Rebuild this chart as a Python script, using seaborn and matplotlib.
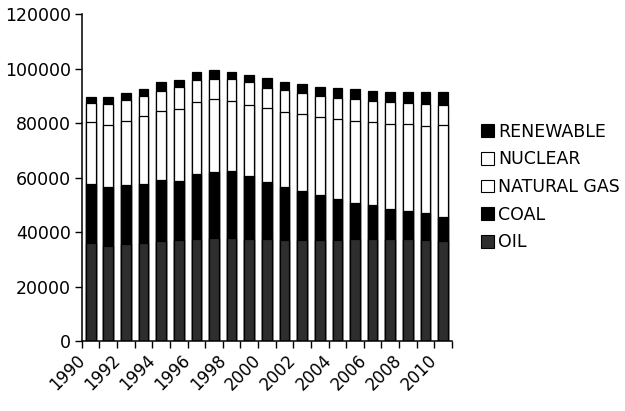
import numpy as np
import pandas as pd
import matplotlib
matplotlib.use("Agg")
import matplotlib.pyplot as plt
import matplotlib.transforms as mtransforms
import seaborn as sns
from matplotlib.patches import Patch

years = list(range(1990, 2011))
oil = [36000, 35000, 35500, 36000, 36700, 37000, 37500, 38000, 37800, 37400,
       37400, 37000, 37000, 37200, 37300, 37400, 37400, 37400, 37400, 37200, 36700]
coal = [21700, 21500, 21900, 21700, 22300, 21700, 23700, 24000, 24700, 23200,
        20900, 19700, 18000, 16600, 14900, 13500, 12600, 11300, 10500, 9800, 8900]
natural_gas = [22600, 22800, 23500, 25100, 25500, 26400, 26500, 26900, 25800, 26100,
               27200, 27500, 28300, 28600, 29200, 29900, 30300, 30900, 31700, 32000, 33700]
nuclear = [7000, 7700, 7600, 7400, 7500, 8100, 8100, 7400, 7900, 8400,
           7600, 8100, 7700, 7800, 8000, 8100, 7900, 8100, 7700, 8000, 7600]
renewable = [2500, 2600, 2800, 2400, 3000, 2800, 3000, 3100, 2800, 2700,
             3500, 3000, 3400, 3300, 3700, 3600, 3800, 3900, 4300, 4600, 4700]

series = [("OIL", oil), ("COAL", coal), ("NATURAL GAS", natural_gas),
          ("NUCLEAR", nuclear), ("RENEWABLE", renewable)]
face = {"OIL": "#2e2e2e", "COAL": "#000000", "NATURAL GAS": "#ffffff",
        "NUCLEAR": "#ffffff", "RENEWABLE": "#000000"}

sns.set_style("ticks", {"axes.edgecolor": "black", "text.color": "black",
                        "xtick.color": "black", "ytick.color": "black"})
plt.rcParams["font.family"] = ["DejaVu Sans"]

df = pd.DataFrame({"year": [str(y) for y in years]})
running = np.zeros(len(years))
for name, vals in series:
    running = running + np.array(vals)
    df[name] = running.copy()

fig = plt.figure(figsize=(6.25, 4.11), dpi=100)
ax = fig.add_axes([0.131, 0.170, 0.592, 0.795])

# Stacked bars: draw cumulative totals from the top layer down
for name, _ in reversed(series):
    sns.barplot(data=df, x="year", y=name, color=face[name], saturation=1,
                edgecolor="black", linewidth=0.9, width=0.55, ax=ax,
                errorbar=None)

ax.set_xlim(-0.5, len(years) - 0.5)
ax.set_ylim(0, 120000)
ax.set_yticks(np.arange(0, 120001, 20000))
ax.set_yticklabels([str(v) for v in range(0, 120001, 20000)], fontsize=12.5,
                   color="black")
ax.set_xlabel("")
ax.set_ylabel("")

# Category labels every other year, tick marks between categories
ax.set_xticks(range(0, len(years), 2))
ax.set_xticklabels([str(y) for y in years[::2]], rotation=45, ha="right",
                   rotation_mode="anchor", fontsize=12, color="black")
ax.tick_params(axis="x", length=0, pad=7)
shift = mtransforms.ScaledTranslation(-15 / 100, 0, fig.dpi_scale_trans)
for lab in ax.get_xticklabels():
    lab.set_transform(lab.get_transform() + shift)
ax.set_xticks(np.arange(-0.5, len(years), 1), minor=True)
ax.tick_params(axis="x", which="minor", length=5, width=1, direction="out",
               color="black")
ax.tick_params(axis="y", length=5, width=1, direction="out", pad=3,
               color="black")

sns.despine(ax=ax)
for s in ("left", "bottom"):
    ax.spines[s].set_linewidth(1.1)
    ax.spines[s].set_color("black")

handles = [Patch(facecolor=face[n], edgecolor="black", linewidth=0.8, label=n)
           for n, _ in reversed(series)]
leg = fig.legend(handles=handles, loc="center left", bbox_to_anchor=(0.744, 0.545),
                 frameon=False, fontsize=12.5, handlelength=0.75, handleheight=0.75,
                 handletextpad=0.25, labelspacing=0.56)
for t in leg.get_texts():
    t.set_color("black")

fig.savefig("out.png", dpi=100)
